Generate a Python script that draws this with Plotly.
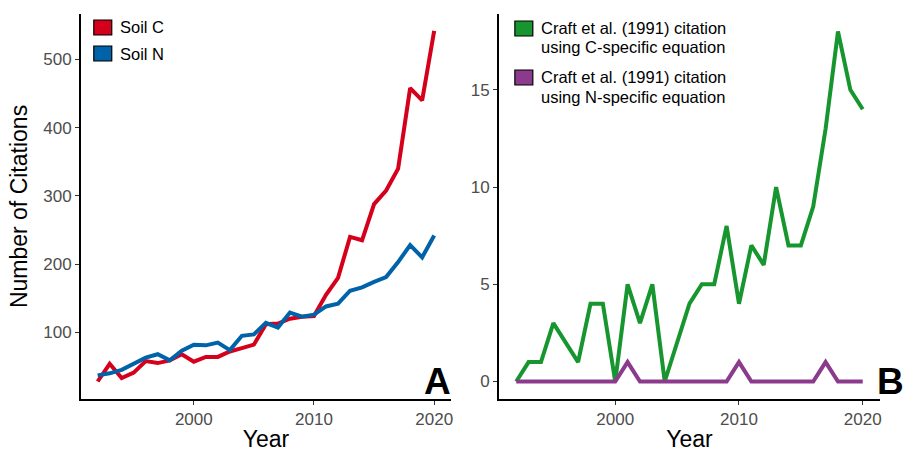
import plotly.graph_objects as go

# Citation counts per year
years = list(range(1992, 2021))

soil_c = [28, 54, 33, 41, 58, 55, 59, 68, 57, 64, 64, 72, 77, 82, 112, 113,
          120, 123, 124, 155, 180, 240, 235, 288, 308, 340, 458, 440, 542]
soil_n = [37, 40, 45, 54, 63, 68, 59, 73, 82, 81, 85, 74, 95, 97, 114, 107,
          129, 123, 126, 138, 142, 161, 166, 174, 181, 203, 228, 210, 242]

craft_c = [0, 1, 1, 3, 2, 1, 4, 4, 0, 5, 3, 5, 0, 2, 4, 5, 5, 8, 4, 7, 6, 10,
           7, 7, 9, 13, 18, 15, 14]
craft_n = [0, 0, 0, 0, 0, 0, 0, 0, 0, 1, 0, 0, 0, 0, 0, 0, 0, 0, 1, 0, 0, 0,
           0, 0, 0, 1, 0, 0, 0]

left_ticks = [100, 200, 300, 400, 500]
right_ticks = [0, 5, 10, 15]
year_ticks = [2000, 2010, 2020]

RED = "#D5001B"
BLUE = "#0062A8"
GREEN = "#17962F"
PURPLE = "#8B3A8D"

W, H = 907, 452
FONT = "Liberation Sans, Arial, sans-serif"


def px_x(x):
    return x / W


def px_y(y):
    return (H - y) / H


fig = go.Figure()
fig.add_trace(go.Scatter(x=years, y=soil_c, mode="lines", name="Soil C",
                         line=dict(color=RED, width=4), xaxis="x", yaxis="y"))
fig.add_trace(go.Scatter(x=years, y=soil_n, mode="lines", name="Soil N",
                         line=dict(color=BLUE, width=4), xaxis="x", yaxis="y"))
fig.add_trace(go.Scatter(x=years, y=craft_c, mode="lines",
                         name="C-specific equation",
                         line=dict(color=GREEN, width=4), xaxis="x2", yaxis="y2"))
fig.add_trace(go.Scatter(x=years, y=craft_n, mode="lines",
                         name="N-specific equation",
                         line=dict(color=PURPLE, width=4), xaxis="x2", yaxis="y2"))

y_dom = [px_y(399), px_y(14)]
axis_common = dict(showline=True, linecolor="black", linewidth=1.5,
                   ticks="outside", ticklen=4, tickwidth=1.2, tickcolor="#333333",
                   showgrid=False, zeroline=False,
                   tickfont=dict(family=FONT, size=17, color="#4D4D4D"))
title_font = dict(family=FONT, size=23, color="black")

fig.update_layout(
    width=W, height=H,
    margin=dict(l=0, r=0, t=0, b=0),
    paper_bgcolor="white", plot_bgcolor="white",
    showlegend=False,
    xaxis=dict(domain=[px_x(81), px_x(452)], range=[1990.6, 2021.4],
               tickvals=year_ticks, anchor="y",
               title=dict(text="Year", font=title_font, standoff=5),
               **axis_common),
    yaxis=dict(domain=y_dom, range=[2.35, 566.65], tickvals=left_ticks, anchor="x",
               title=dict(text="Number of Citations", font=title_font, standoff=9),
               **axis_common),
    xaxis2=dict(domain=[px_x(500), px_x(882)], range=[1990.6, 2021.4],
                tickvals=year_ticks, anchor="y2",
                title=dict(text="Year", font=title_font, standoff=5),
                **axis_common),
    yaxis2=dict(domain=y_dom, range=[-0.9, 18.9], tickvals=right_ticks, anchor="x2",
                **axis_common),
)

# Legend keys and labels
shapes = []
annotations = []


def key(x0, y0, color):
    shapes.append(dict(type="rect", xref="paper", yref="paper",
                       x0=px_x(x0), x1=px_x(x0 + 18), y0=px_y(y0 + 15), y1=px_y(y0),
                       fillcolor=color, line=dict(color="black", width=1.2)))


def label(x, y, text, size=16.5, bold=False, color="black"):
    annotations.append(dict(xref="paper", yref="paper", x=px_x(x), y=px_y(y),
                            text=f"<b>{text}</b>" if bold else text,
                            showarrow=False, xanchor="left", yanchor="middle",
                            font=dict(family=FONT, size=size, color=color)))


key(94, 20, RED)
key(94, 46, BLUE)
label(118, 27.5, "Soil C")
label(118, 54, "Soil N")

key(516, 21, GREEN)
key(516, 70, PURPLE)
label(540, 28, "Craft et al. (1991) citation")
label(540, 47, "using C-specific equation")
label(540, 77, "Craft et al. (1991) citation")
label(540, 97, "using N-specific equation")

label(423, 381, "A", size=37, bold=True)
label(877, 381, "B", size=37, bold=True)

fig.update_layout(shapes=shapes, annotations=annotations)

fig.write_html("out.html")
